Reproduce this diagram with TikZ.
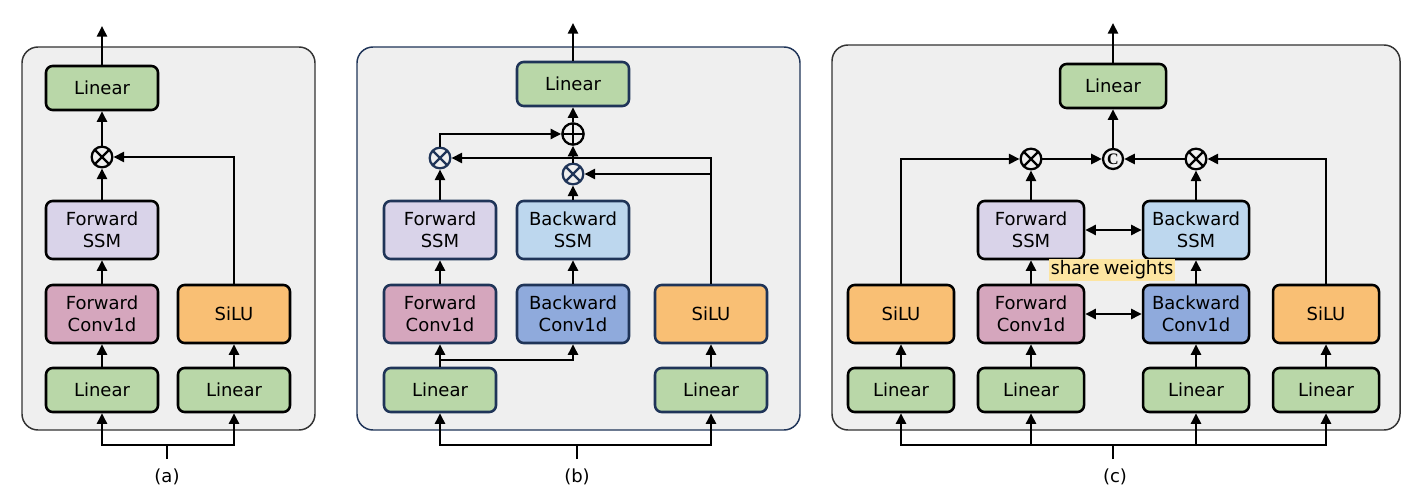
\documentclass[tikz,border=0pt]{standalone}
\usepackage{fontspec}
\setmainfont{DejaVu Sans}
\newfontfamily\notefont{Noto Sans}
\newfontfamily\catfont{Liberation Serif}
\usetikzlibrary{arrows.meta}

\definecolor{linfill}{HTML}{B9D7A8}
\definecolor{ssmfwd}{HTML}{D9D3E9}
\definecolor{convfwd}{HTML}{D5A6BD}
\definecolor{ssmbwd}{HTML}{BDD7EE}
\definecolor{convbwd}{HTML}{8FAADC}
\definecolor{silufill}{HTML}{F9BF74}
\definecolor{panelfill}{HTML}{EFEFEF}
\definecolor{navy}{HTML}{1F3458}
\definecolor{notefill}{HTML}{FDE5A1}

\tikzset{
  blk/.style={draw=black, line width=1.9pt, rounded corners=5pt, minimum width=84pt,
    minimum height=33pt, align=center, inner sep=0pt, font=\fontsize{13.5}{16.5}\selectfont},
  tall/.style={minimum height=43.5pt},
  narrow/.style={minimum width=79.5pt},
  nvy/.style={draw=navy},
  panel/.style={draw=black!80, line width=1.1pt, fill=panelfill, rounded corners=12pt},
  arr/.style={line width=1.9pt, -{Triangle[length=8pt,width=7.5pt]}},
  dbl/.style={line width=1.9pt, {Triangle[length=8pt,width=7.5pt]}-{Triangle[length=8pt,width=7.5pt]}},
  ln/.style={line width=1.9pt},
  otimes/.style={circle, draw, line width=1.7pt, minimum size=15.5pt, inner sep=0pt,
    path picture={\draw[line width=1.7pt] (path picture bounding box.north west) -- (path picture bounding box.south east)
      (path picture bounding box.north east) -- (path picture bounding box.south west);}},
  oplus/.style={circle, draw, line width=1.7pt, minimum size=16pt, inner sep=0pt,
    path picture={\draw[line width=1.7pt] (path picture bounding box.north) -- (path picture bounding box.south)
      (path picture bounding box.east) -- (path picture bounding box.west);}},
  catnode/.style={circle, draw, line width=1.7pt, minimum size=15pt, inner sep=0pt, font=\catfont\bfseries\fontsize{12}{12}\selectfont},
  captxt/.style={font=\fontsize{13.5}{16}\selectfont}
}

\begin{document}
\begin{tikzpicture}[x=0.75pt,y=0.75pt,yscale=-1,xscale=1]

\useasboundingbox (0,0) rectangle (1412,498);

\draw[panel] (22,47) rectangle (315,430);

\draw[panel, draw=navy] (357,47) rectangle (800,430);

\draw[panel] (832,45) rectangle (1400,430);


\node[blk, fill=linfill] (aLinTop) at (102,88) {Linear};

\node[otimes] (aMul) at (102,157) {};

\node[blk, tall, fill=ssmfwd] (aSSM) at (102,230) {Forward\\SSM};

\node[blk, tall, fill=convfwd] (aConv) at (102,314) {Forward\\Conv1d};

\node[blk, fill=linfill] (aLinL) at (102,390) {Linear};

\node[blk, tall, fill=silufill] (aSiLU) at (234,314) {SiLU};

\node[blk, fill=linfill] (aLinR) at (234,390) {Linear};

\coordinate (aOut) at (102,26);

\coordinate (aIn) at (167,459);

\coordinate (aFork) at (167,445);

\node[captxt] (aCap) at (167,477) {(a)};

\draw[arr] (aLinL) -- (aConv);

\draw[arr] (aConv) -- (aSSM);

\draw[arr] (aSSM) -- (aMul);

\draw[arr] (aMul) -- (aLinTop);

\draw[arr] (aLinTop) -- (aOut);

\draw[arr] (aLinR) -- (aSiLU);

\draw[arr] (aSiLU) |- (aMul);

\draw[ln] (aIn) -- (aFork);

\draw[arr] (aFork) -| (aLinL);

\draw[arr] (aFork) -| (aLinR);


\node[blk, nvy, fill=linfill] (bLinTop) at (573,84) {Linear};

\node[oplus] (bAdd) at (573,134) {};

\node[otimes, nvy] (bMulF) at (440,158) {};

\node[otimes, nvy] (bMulB) at (573,174) {};

\node[blk, nvy, tall, fill=ssmfwd] (bSSMF) at (440,230) {Forward\\SSM};

\node[blk, nvy, tall, fill=ssmbwd] (bSSMB) at (573,230) {Backward\\SSM};

\node[blk, nvy, tall, fill=convfwd] (bConvF) at (440,314) {Forward\\Conv1d};

\node[blk, nvy, tall, fill=convbwd] (bConvB) at (573,314) {Backward\\Conv1d};

\node[blk, nvy, tall, fill=silufill] (bSiLU) at (711,314) {SiLU};

\node[blk, nvy, fill=linfill] (bLinL) at (440,390) {Linear};

\node[blk, nvy, fill=linfill] (bLinR) at (711,390) {Linear};

\coordinate (bOut) at (573,23);

\coordinate (bSplit) at (440,360);

\coordinate (bTap) at (711,174);

\coordinate (bIn) at (577,459);

\coordinate (bFork) at (577,445);

\node[captxt] (bCap) at (577,477) {(b)};

\draw[arr] (bLinL) -- (bConvF);

\draw[arr] (bSplit) -| (bConvB);

\draw[arr] (bConvF) -- (bSSMF);

\draw[arr] (bConvB) -- (bSSMB);

\draw[arr] (bSSMF) -- (bMulF);

\draw[arr] (bSSMB) -- (bMulB);

\draw[arr] (bMulB) -- (bAdd);

\draw[arr] (bMulF) |- (bAdd);

\draw[arr] (bAdd) -- (bLinTop);

\draw[arr] (bLinTop) -- (bOut);

\draw[arr] (bLinR) -- (bSiLU);

\draw[arr] (bSiLU) |- (bMulF);

\draw[arr] (bTap) -- (bMulB);

\draw[ln] (bIn) -- (bFork);

\draw[arr] (bFork) -| (bLinL);

\draw[arr] (bFork) -| (bLinR);


\node[blk, narrow, fill=linfill] (cLinTop) at (1113,86) {Linear};

\node[catnode] (cCat) at (1113,159) {C};

\node[otimes] (cMulF) at (1031,159) {};

\node[otimes] (cMulB) at (1196,159) {};

\node[blk, narrow, tall, fill=ssmfwd] (cSSMF) at (1031,230) {Forward\\SSM};

\node[blk, narrow, tall, fill=ssmbwd] (cSSMB) at (1196,230) {Backward\\SSM};

\node[fill=notefill, inner sep=1.5pt, font=\notefont\fontsize{14}{15}\selectfont] (cNote) at (1112,270) {share weights};

\node[blk, narrow, tall, fill=silufill] (cSiLUL) at (901,314) {SiLU};

\node[blk, narrow, tall, fill=convfwd] (cConvF) at (1031,314) {Forward\\Conv1d};

\node[blk, narrow, tall, fill=convbwd] (cConvB) at (1196,314) {Backward\\Conv1d};

\node[blk, narrow, tall, fill=silufill] (cSiLUR) at (1326,314) {SiLU};

\node[blk, narrow, fill=linfill] (cLin1) at (901,390) {Linear};

\node[blk, narrow, fill=linfill] (cLin2) at (1031,390) {Linear};

\node[blk, narrow, fill=linfill] (cLin3) at (1196,390) {Linear};

\node[blk, narrow, fill=linfill] (cLin4) at (1326,390) {Linear};

\coordinate (cOut) at (1113,23);

\coordinate (cIn) at (1113,459);

\coordinate (cFork) at (1113,445);

\node[captxt] (cCap) at (1115,477) {(c)};

\draw[arr] (cLin1) -- (cSiLUL);

\draw[arr] (cLin2) -- (cConvF);

\draw[arr] (cLin3) -- (cConvB);

\draw[arr] (cLin4) -- (cSiLUR);

\draw[arr] (cConvF) -- (cSSMF);

\draw[arr] (cConvB) -- (cSSMB);

\draw[dbl] (cSSMF) -- (cSSMB);

\draw[dbl] (cConvF) -- (cConvB);

\draw[arr] (cSSMF) -- (cMulF);

\draw[arr] (cSSMB) -- (cMulB);

\draw[arr] (cSiLUL) |- (cMulF);

\draw[arr] (cSiLUR) |- (cMulB);

\draw[arr] (cMulF) -- (cCat);

\draw[arr] (cMulB) -- (cCat);

\draw[arr] (cCat) -- (cLinTop);

\draw[arr] (cLinTop) -- (cOut);

\draw[ln] (cIn) -- (cFork);

\draw[arr] (cFork) -| (cLin1);

\draw[arr] (cFork) -| (cLin2);

\draw[arr] (cFork) -| (cLin3);

\draw[arr] (cFork) -| (cLin4);


\end{tikzpicture}
\end{document}
